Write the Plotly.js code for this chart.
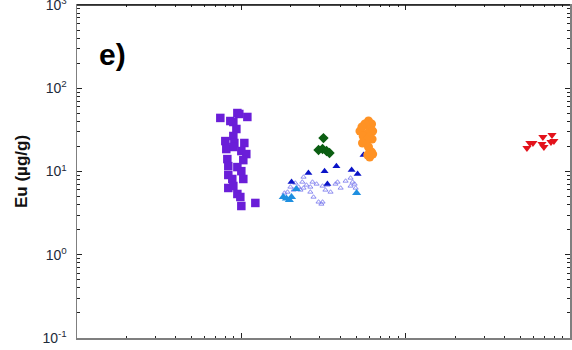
<!DOCTYPE html>
<html>
<head>
<meta charset="utf-8">
<script src="https://cdn.plot.ly/plotly-3.0.1.min.js"></script>
<style>html,body{margin:0;padding:0;background:#fff;}#chart{width:572px;height:350px;}</style>
</head>
<body>
<div id="chart"></div>
<script>
// Series (x on an unlabelled log axis, y = Eu in µg/g)
const purpleX = [7.45, 9.46, 9.72, 10.88, 8.57, 8.94, 9.33, 8.94, 7.99, 9.07, 10.43, 8.1, 8.94, 10, 10.72, 8.22, 10.28, 8.33, 9.46, 10, 8.33, 8.81, 10.28, 8.33, 8.94, 9.46, 9.86, 10, 12.17];
const purpleY = [44.0, 50.4, 49.1, 45.2, 40.4, 39.3, 32.4, 26.7, 23.2, 22.0, 22.0, 18.6, 19.7, 17.6, 16.2, 14.1, 13.7, 11.6, 11.3, 10.1, 9.08, 8.13, 8.13, 6.34, 6.70, 5.37, 4.94, 3.85, 4.19];

const openTriX = [23.9, 23.5, 21.3, 19.9, 22.3, 23.9, 26.3, 27.1, 20.8, 19.1, 27.5, 29.5, 30.7, 31.2, 33.4, 32.5, 34.9, 38.5, 37.4, 46.2, 47.5, 48.9, 46.2, 49.6, 31.2, 22.9, 24.9, 28.7, 43.1, 40.2, 18.3, 26.3];
const openTriY = [8.59, 7.48, 7.28, 6.52, 6.52, 6.34, 6.52, 7.48, 6.00, 5.67, 4.94, 4.31, 4.07, 6.70, 6.89, 6.00, 5.67, 7.48, 7.08, 8.36, 7.48, 7.08, 6.70, 6.34, 4.31, 6.00, 6.89, 7.08, 7.69, 6.34, 5.52, 5.67];

const cyanX = [18.0, 19.6, 18.8, 21.6, 50.3, 20.2];
const cyanY = [4.94, 4.55, 4.73, 6.17, 5.52, 4.94];

const navyX = [20.2, 25.6, 32.1, 37.9, 46.9, 51.0, 55.4, 33.4];
const navyY = [7.48, 9.59, 10.1, 11.6, 10.4, 9.33, 15.8, 7.08];

const greenX = [31.6, 29.5, 31.2, 33.0, 34.4];
const greenY = [25.2, 18.1, 18.6, 17.6, 16.7];

const orangeX = [59.4, 62.0, 56.5, 54.2, 60.4, 52.7, 63.0, 57.8, 55.2, 60.4, 62.5, 57.8, 54.6, 59.4, 62.0, 58.8, 60.4, 63.0];
const orangeY = [40.4, 37.2, 37.2, 34.3, 31.5, 30.6, 30.6, 28.2, 26.5, 25.9, 24.5, 23.9, 22.0, 19.7, 17.1, 15.8, 14.9, 16.2];

const redX = [547, 570, 595, 684, 675, 694, 777, 798, 766];
const redY = [19.2, 22.0, 22.0, 25.9, 21.4, 19.7, 27.4, 23.2, 22.6];

const yTickVals = [0.1, 1, 10, 100, 1000];
const yTickText = ['10<sup>-1</sup>', '10<sup>0</sup>', '10<sup>1</sup>', '10<sup>2</sup>', '10<sup>3</sup>'];

const F = 'Arial, "Liberation Sans", sans-serif';

function tr(x, y, symbol, color, size, lineW) {
  return {
    x: x, y: y, type: 'scatter', mode: 'markers', hoverinfo: 'skip',
    marker: {symbol: symbol, color: color, size: size, line: {width: lineW || 0, color: color}}
  };
}

const data = [
  tr(openTriX, openTriY, 'triangle-up-open', '#8080ee', 4.5, 0.9),
  tr(cyanX, cyanY, 'triangle-up', '#1f8fe0', 8),
  tr(navyX, navyY, 'triangle-up', '#0a14c8', 7),
  tr(greenX, greenY, 'diamond', '#0b5e12', 8),
  tr(orangeX, orangeY, 'circle', '#ff9224', 9),
  tr(purpleX, purpleY, 'square', '#6a1ed8', 8.5),
  tr(redX, redY, 'triangle-down', '#e3121b', 8)
];

const layout = {
  width: 572, height: 350,
  margin: {l: 77, r: 2, t: 5, b: 12},
  paper_bgcolor: '#fff', plot_bgcolor: '#fff',
  showlegend: false,
  font: {family: F, color: '#222', size: 13},
  xaxis: {
    type: 'log', range: [0, 3], showgrid: false, zeroline: false,
    showline: true, linecolor: '#7f7f7f', linewidth: 1.5, mirror: 'allticks',
    ticks: 'inside', ticklen: 5, tickcolor: '#222', dtick: 1,
    showticklabels: false,
    minor: {ticks: 'inside', ticklen: 2, tickcolor: '#222', dtick: 'D1', showgrid: false}
  },
  yaxis: {
    type: 'log', range: [-1, 3], showgrid: false, zeroline: false,
    showline: true, linecolor: '#7f7f7f', linewidth: 1.5, mirror: 'allticks',
    ticks: 'inside', ticklen: 5, tickcolor: '#222',
    tickmode: 'array', tickvals: yTickVals, ticktext: yTickText,
    tickfont: {family: F, size: 14, color: '#1d2a3a'},
    ticklabelstandoff: 6, ticklabeloverflow: 'allow',
    minor: {ticks: 'inside', ticklen: 3, tickcolor: '#222', dtick: 'D1', showgrid: false},
    title: {text: '<b>Eu (µg/g)</b>', font: {family: F, size: 17, color: '#111'}, standoff: 10}
  },
  shapes: [
    {type: 'line', xref: 'paper', yref: 'paper', x0: 0, x1: 1, y0: 1, y1: 1, line: {color: '#111', width: 1.5}}
  ],
  annotations: [
    {text: '<b>e)</b>', xref: 'paper', yref: 'paper', x: 0.04, y: 0.85, xanchor: 'left', yanchor: 'middle',
     showarrow: false, font: {family: F, size: 30, color: '#000'}}
  ]
};

Plotly.newPlot('chart', data, layout, {displayModeBar: false, staticPlot: true});
</script>
</body>
</html>
